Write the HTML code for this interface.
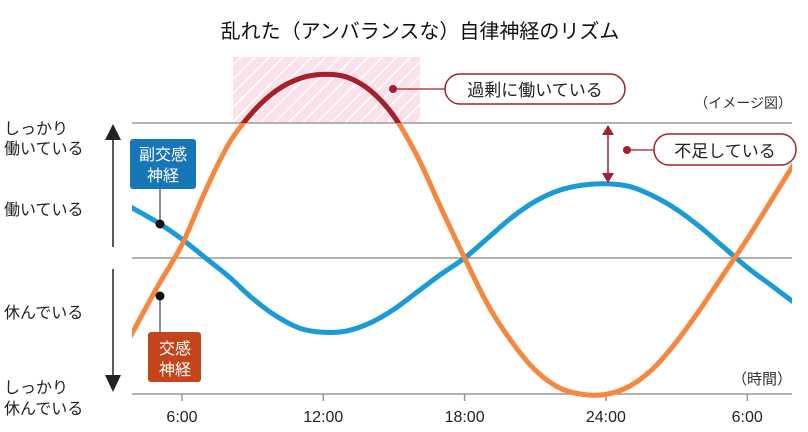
<!DOCTYPE html>
<html><head><meta charset="utf-8"><style>
body{margin:0;background:#fff;}
svg{display:block;font-family:"Liberation Sans","Noto Sans CJK JP",sans-serif;}
</style></head><body>
<svg width="808" height="432" viewBox="0 0 808 432">
<defs>
<pattern id="hatch" width="10" height="10" patternUnits="userSpaceOnUse" patternTransform="rotate(45)">
<rect width="10" height="10" fill="#fbe1ea"/><rect x="0" width="1.5" height="10" fill="#fff"/>
</pattern>
<clipPath id="plotclip"><rect x="132" y="40" width="660" height="360"/></clipPath>
<clipPath id="aboveclip"><rect x="132" y="40" width="660" height="83"/></clipPath>
</defs>
<text x="420" y="38" text-anchor="middle" font-size="20" fill="#111">乱れた（アンバランスな）自律神経のリズム</text>
<rect x="233" y="57" width="187" height="66" fill="url(#hatch)"/>
<line x1="132" y1="123" x2="792" y2="123" stroke="#999" stroke-width="1.5"/>
<line x1="132" y1="258" x2="792" y2="258" stroke="#999" stroke-width="1.5"/>
<line x1="132" y1="394" x2="792" y2="394" stroke="#999" stroke-width="1.5"/>
<g id="ticks"></g>
<g id="series" clip-path="url(#plotclip)"></g>
<text x="792" y="108" text-anchor="end" font-size="14" fill="#333">（イメージ図）</text>
<text x="792" y="384" text-anchor="end" font-size="15" fill="#333">（時間）</text>
<g font-size="16" fill="#222">
<text x="4" y="134">しっかり</text>
<text x="4" y="154">働いている</text>
<text x="4" y="215">働いている</text>
<text x="4" y="318">休んでいる</text>
<text x="4" y="393">しっかり</text>
<text x="4" y="414">休んでいる</text>
</g>
<g>
<line x1="113" y1="140" x2="113" y2="247" stroke="#222" stroke-width="1.5"/>
<polygon points="105,140 121,140 113,124" fill="#222"/>
<line x1="113" y1="269" x2="113" y2="375" stroke="#222" stroke-width="1.5"/>
<polygon points="105,375 121,375 113,392" fill="#222"/>
</g>
<g>
<line x1="393" y1="89" x2="445" y2="89" stroke="#a3202f" stroke-width="1.2"/>
<circle cx="393" cy="89" r="4" fill="#a3202f"/>
<rect x="445" y="74" width="180" height="30" rx="15" fill="#fff" stroke="#a3202f" stroke-width="1.5"/>
<text x="535" y="96" text-anchor="middle" font-size="17" fill="#222">過剰に働いている</text>
</g>
<g>
<line x1="608" y1="132" x2="608" y2="176" stroke="#a3202f" stroke-width="1.5"/>
<polygon points="602,135 614,135 608,125" fill="#a3202f"/>
<polygon points="602,173 614,173 608,183" fill="#a3202f"/>
<line x1="627" y1="150" x2="655" y2="150" stroke="#a3202f" stroke-width="1.2"/>
<circle cx="627" cy="150" r="4" fill="#a3202f"/>
<rect x="654" y="134" width="142" height="31" rx="15" fill="#fff" stroke="#a3202f" stroke-width="1.5"/>
<text x="725" y="157" text-anchor="middle" font-size="17" fill="#222">不足している</text>
</g>
<g>
<line x1="160" y1="188" x2="160" y2="224" stroke="#444" stroke-width="1.2"/>
<circle cx="160" cy="224" r="4.5" fill="#111"/>
<rect x="130" y="139" width="66" height="50" rx="3" fill="#1676b8"/>
<text x="163" y="160" text-anchor="middle" font-size="16" fill="#fff">副交感</text>
<text x="163" y="181" text-anchor="middle" font-size="16" fill="#fff">神経</text>
</g>
<g>
<line x1="160" y1="296" x2="160" y2="334" stroke="#444" stroke-width="1.2"/>
<circle cx="160" cy="296" r="4.5" fill="#111"/>
<rect x="148" y="332" width="53" height="50" rx="3" fill="#c54419"/>
<text x="175" y="354" text-anchor="middle" font-size="16" fill="#fff">交感</text>
<text x="175" y="375" text-anchor="middle" font-size="16" fill="#fff">神経</text>
</g>
</svg>
<script>
const hours = [3.5,4,5,6,7,8,9,10,11,12,13,14,15,16,17,18,19,20,21,22,23,24,25,26,27,28,29,30,31,32,32.5];
const sympathetic = [-0.68,-0.52,-0.2,0.1,0.5,0.85,1.08,1.24,1.33,1.36,1.34,1.24,1.05,0.75,0.37,0.0,-0.35,-0.62,-0.83,-0.96,-1.01,-1.01,-0.95,-0.82,-0.62,-0.38,-0.12,0.14,0.42,0.7,0.82];
const parasympathetic = [0.41,0.36,0.26,0.14,0.0,-0.14,-0.3,-0.43,-0.52,-0.55,-0.54,-0.48,-0.38,-0.25,-0.12,0.0,0.15,0.3,0.42,0.5,0.54,0.55,0.53,0.46,0.36,0.23,0.08,-0.07,-0.2,-0.33,-0.39];
const tickHours = [6,12,18,24,30];
const tickLabels = ["6:00","12:00","18:00","24:00","6:00"];
const NS="http://www.w3.org/2000/svg";
const xS = h => 182 + (h-6)*23.55;
const yS = v => 258 - v*135;
function pathFor(vals){
  const p = hours.map((h,i)=>[xS(h),yS(vals[i])]);
  let d="M"+p[0][0]+","+p[0][1];
  for(let i=0;i<p.length-1;i++){
    const p0=p[Math.max(0,i-1)],p1=p[i],p2=p[i+1],p3=p[Math.min(p.length-1,i+2)];
    const c1x=p1[0]+(p2[0]-p0[0])/6,c1y=p1[1]+(p2[1]-p0[1])/6;
    const c2x=p2[0]-(p3[0]-p1[0])/6,c2y=p2[1]-(p3[1]-p1[1])/6;
    d+=` C${c1x},${c1y} ${c2x},${c2y} ${p2[0]},${p2[1]}`;
  }
  return d;
}
const g=document.getElementById('series');
function mk(d,color,name,clip){
  const el=document.createElementNS(NS,'path');
  el.setAttribute('d',d);el.setAttribute('fill','none');el.setAttribute('stroke',color);
  el.setAttribute('stroke-width','5');
  if(clip) el.setAttribute('clip-path',clip);
  
  
  g.appendChild(el);
}
mk(pathFor(parasympathetic),'#1a9ad6','parasympathetic-line');
mk(pathFor(sympathetic),'#f5873f','sympathetic-line');
mk(pathFor(sympathetic),'#a3202f','sympathetic-excess-line','url(#aboveclip)');
const tg=document.getElementById('ticks');
tickHours.forEach((h,i)=>{
  const l=document.createElementNS(NS,'line');
  l.setAttribute('x1',xS(h));l.setAttribute('x2',xS(h));l.setAttribute('y1',394);l.setAttribute('y2',401);
  l.setAttribute('stroke','#999');l.setAttribute('stroke-width','1.5');
  
  
  tg.appendChild(l);
  const t=document.createElementNS(NS,'text');
  t.setAttribute('x',xS(h));t.setAttribute('y',422);t.setAttribute('text-anchor','middle');
  t.setAttribute('font-size','16');t.setAttribute('fill','#222');
  t.textContent=tickLabels[i];
  
  
  tg.appendChild(t);
});
</script>
</body></html>
